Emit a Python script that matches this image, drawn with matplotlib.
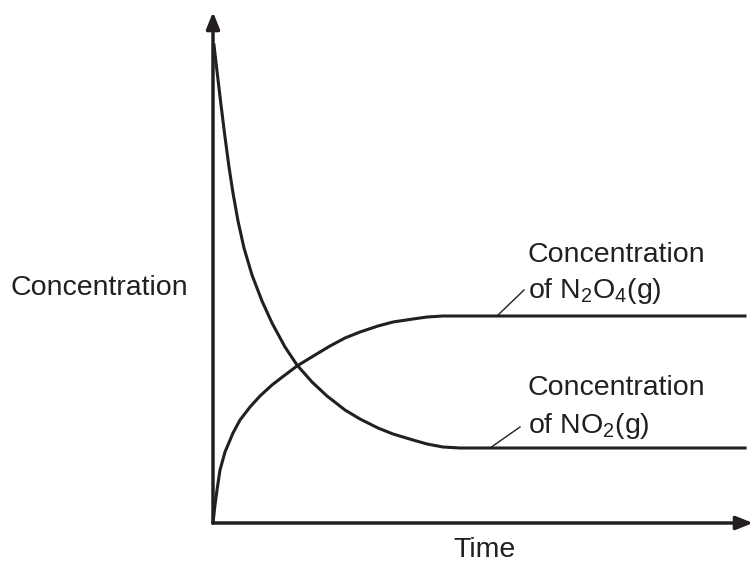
import matplotlib
matplotlib.use('Agg')
import matplotlib.pyplot as plt

plt.rcParams['font.family'] = ['Liberation Sans', 'DejaVu Sans']
plt.rcParams['mathtext.fontset'] = 'custom'
plt.rcParams['mathtext.rm'] = 'Liberation Sans'
plt.rcParams['mathtext.it'] = 'Liberation Sans'

# time and concentration (arbitrary units)
no2_time = [1, 4, 8, 12, 16, 20, 25, 31, 39, 49, 59, 72, 84, 99, 114, 132, 147, 165,
            180, 200, 214, 230, 247, 532]
no2_conc = [478, 452, 418, 386, 356, 330, 302, 275, 248, 222, 200, 176, 158, 141, 127,
            113, 104, 95, 89, 83, 79, 76, 75, 75]

n2o4_time = [0, 2, 4, 7, 12, 20, 27, 37, 47, 59, 72, 84, 102, 117, 132, 147, 165, 180,
             200, 214, 230, 247, 532]
n2o4_conc = [0, 18, 33, 53, 71, 90, 103, 116, 127, 138, 148, 157, 168, 177, 185, 191,
             197, 201, 204, 206, 207, 207, 207]

x_max = 540
y_max = 511

ink = '#231f20'

fig = plt.figure(figsize=(7.53, 5.67), dpi=100)
ax = fig.add_axes([0, 0, 1, 1])
ax.set_xlim(-213, 540)
ax.set_ylim(-44, 523)
ax.axis('off')

# axes with arrow heads
arrow = dict(arrowstyle='-|>,head_length=1.0,head_width=0.4',
             color=ink, lw=2.5, shrinkA=0, shrinkB=0)
ax.annotate('', xy=(0, y_max), xytext=(0, 0), arrowprops=arrow)
ax.annotate('', xy=(x_max, 0), xytext=(0, 0), arrowprops=arrow)

ax.plot(no2_time, no2_conc, color=ink, lw=2.2, solid_joinstyle='round')
ax.plot(n2o4_time, n2o4_conc, color=ink, lw=2.2, solid_joinstyle='round')

fs = 20.5
ax.text(-203, 235, 'Concentration', fontsize=fs, color=ink, va='center', ha='left')
ax.text(272, -27, 'Time', fontsize=fs, color=ink, va='center', ha='center')

ax.text(315, 268, 'Concentration', fontsize=fs, color=ink, va='center', ha='left')
ax.text(315, 232, r'of $\mathregular{N_2O_4}$(g)', fontsize=fs, color=ink, va='center', ha='left')
ax.plot([284, 311], [207, 233], color=ink, lw=1)

ax.text(315, 135, 'Concentration', fontsize=fs, color=ink, va='center', ha='left')
ax.text(315, 97, r'of $\mathregular{NO_2}$(g)', fontsize=fs, color=ink, va='center', ha='left')
ax.plot([277, 307], [75, 96], color=ink, lw=1)

fig.savefig('out.png', dpi=100)
